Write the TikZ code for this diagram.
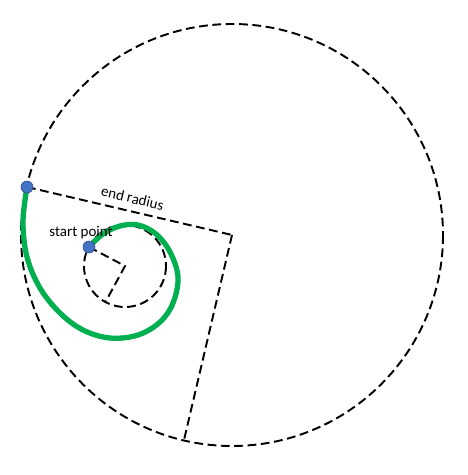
\documentclass[tikz,border=0pt]{standalone}
\usepackage{fontspec}
\setmainfont{Carlito}
\usepackage{tikz}
\definecolor{spiralgreen}{HTML}{00B050}
\definecolor{dotblue}{HTML}{4472C4}
\definecolor{dotedge}{HTML}{2F528F}
\tikzstyle{dashline} = [line width=1.1pt, dash pattern=on 5pt off 2.6pt]
\tikzstyle{spiral} = [line width=3pt, spiralgreen, line cap=round]
\tikzstyle{dot} = [circle, fill=dotblue, draw=dotedge, line width=0.4pt, minimum size=6.8pt, inner sep=0pt]
\tikzstyle{lbl} = [font=\fontsize{8.5}{10}\selectfont, inner sep=1pt]

\begin{document}
\begin{tikzpicture}[x=0.02cm, y=-0.02cm]
        \useasboundingbox (0,0) rectangle (467,475);
        \coordinate (bc) at (232,235);
        \coordinate (sc) at (125,266);
        \coordinate (endpt) at (27,187);
        \coordinate (bottom) at (184,440);
        \coordinate (startpt) at (89,247);
        \coordinate (inner) at (106,301);

        \draw[dashline] (bc) circle (211);
        \draw[dashline] (sc) circle (41);
        \draw[dashline] (endpt) -- (bc) node[lbl, midway, above=3pt, sloped]{end radius};
        \draw[dashline] (bc) -- (bottom);
        \draw[dashline] (startpt) -- (sc) -- (inner);

        \draw[spiral] plot[smooth, tension=0.6] coordinates {(startpt) (103,234) (120,226) (138,225) (156,234) (170,252) (178,277) (173,303) (160,322) (138,335) (110,338) (83,330) (60,313) (40,288) (27,257) (23,222) (endpt)};

        \node[dot] (startdot) at (startpt) {};
        \node[dot] (enddot) at (endpt) {};
        \node[lbl] (startlbl) at (81,233) {start point};

    \end{tikzpicture}
\end{document}
